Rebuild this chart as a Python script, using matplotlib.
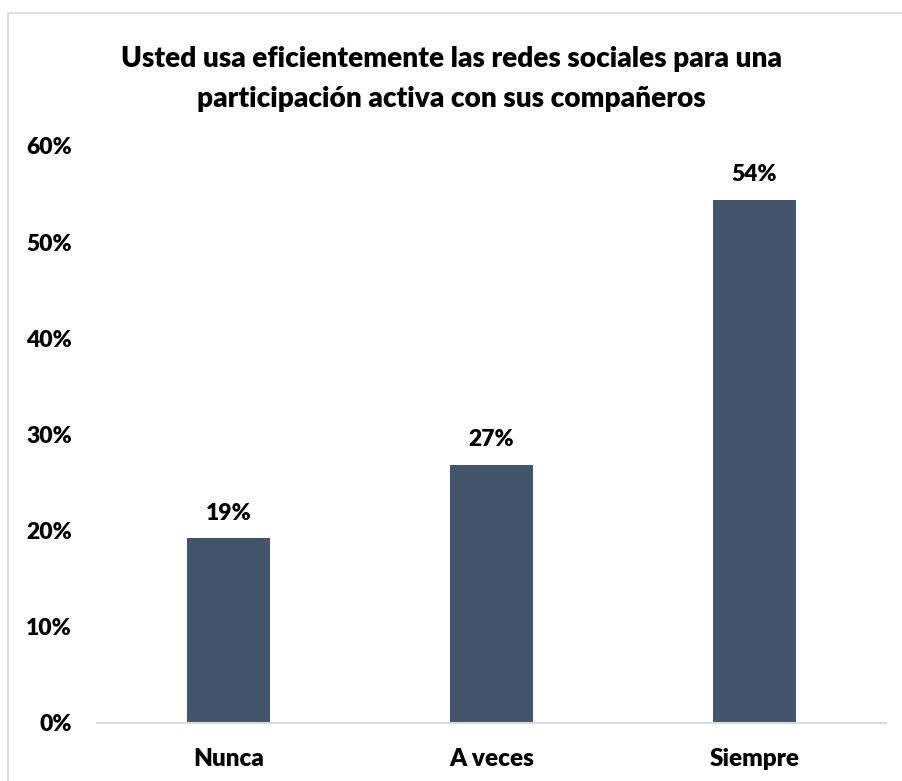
import matplotlib.pyplot as plt
from matplotlib.patches import Rectangle

# chart data
categories = ['Nunca', 'A veces', 'Siempre']
values = [0.192, 0.268, 0.544]
yticks = [0, 0.1, 0.2, 0.3, 0.4, 0.5, 0.6]

BAR_COLOR = '#44546A'
GRID_COLOR = '#D9D9D9'
plt.rcParams['font.family'] = ['Lato', 'DejaVu Sans']
WEIGHT = 'heavy'

W, H = 903, 781
fig = plt.figure(figsize=(W / 100, H / 100), dpi=100)

# outer chart border (cropped on right and bottom)
fig.patches.append(Rectangle((8 / W, -0.05), 1.2, 1 - 13 / H + 0.05,
                             transform=fig.transFigure, fill=False,
                             edgecolor=GRID_COLOR, linewidth=1.2))

ax = fig.add_axes([97 / W, (H - 722.5) / H, (886 - 97) / W, (722.5 - 146) / H])
x = range(len(categories))
ax.bar(x, values, width=0.316, color=BAR_COLOR, zorder=2)
ax.set_xlim(-0.5, len(categories) - 0.5)
ax.set_ylim(0, 0.6)

for xi, v in zip(x, values):
    ax.annotate(f'{v:.0%}', (xi, v), xytext=(0, 18), textcoords='offset points',
                ha='center', va='center', fontsize=16.5, fontweight=WEIGHT)

ax.set_yticks(yticks)
ax.set_yticklabels([f'{t:.0%}' for t in yticks], fontsize=16.5, fontweight=WEIGHT)
ax.set_xticks(list(x))
ax.set_xticklabels(categories, fontsize=17.5, fontweight=WEIGHT)
ax.tick_params(axis='y', length=0, pad=18)
ax.tick_params(axis='x', length=0, pad=18)

for s in ['top', 'right', 'left']:
    ax.spines[s].set_visible(False)
ax.spines['bottom'].set_color(GRID_COLOR)
ax.spines['bottom'].set_linewidth(1.5)

fig.text(0.5, 1 - 79 / H,
         'Usted usa eficientemente las redes sociales para una\nparticipación activa con sus compañeros',
         ha='center', va='center', fontsize=20.2, fontweight=WEIGHT, linespacing=1.65)

fig.savefig('out.png', dpi=100)
